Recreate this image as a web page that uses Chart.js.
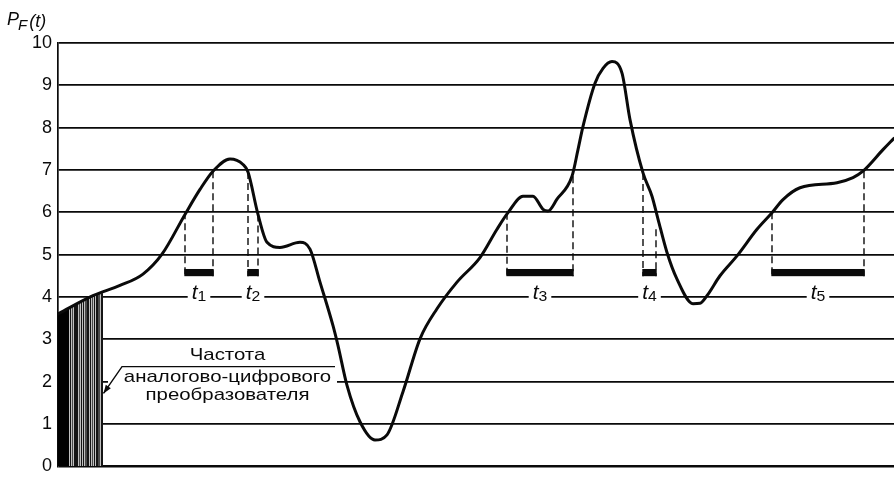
<!DOCTYPE html>
<html>
<head>
<meta charset="utf-8">
<script src="https://cdn.jsdelivr.net/npm/chart.js@4/dist/chart.umd.min.js"></script>
<style>
  html, body { margin: 0; padding: 0; background: #fff; }
  #wrap { width: 894px; height: 483px; }
</style>
</head>
<body>
<div id="wrap"><canvas id="c"></canvas></div>
<script>
// Signal P_F(t): time in arbitrary sample units, value 0..10
const curveT = [0, 35, 62, 85, 104, 127, 142, 155, 172, 185, 190, 200, 209, 222, 242, 252,
  262, 275, 280, 289, 302, 317, 329, 345, 362, 379, 399, 422, 439, 450, 465, 475, 485, 490,
  499, 514, 520, 525, 537, 545, 554, 564, 572, 585, 594, 600, 609, 619, 635, 642, 649, 662,
  679, 699, 714, 725, 742, 779, 795, 805, 825, 836];
const curveP = [3.6, 4.03, 4.27, 4.54, 5.01, 5.95, 6.54, 6.97, 7.26, 7.13, 6.95, 5.95, 5.29, 5.17, 5.29, 5.13,
  4.35, 3.32, 2.85, 1.91, 1.05, 0.62, 0.74, 1.76, 3.01, 3.72, 4.35, 4.93, 5.6, 5.99, 6.38, 6.38, 6.07, 6.03,
  6.31, 6.85, 7.48, 8.03, 9.05, 9.4, 9.56, 9.29, 8.19, 6.93, 6.38, 5.84, 5.05, 4.42, 3.84, 3.85, 4.03, 4.5,
  4.97, 5.6, 5.99, 6.3, 6.58, 6.7, 6.82, 6.97, 7.48, 7.75];

// ADC sampling region at the start
const adcT = [0, 35, 45];
const adcP = [3.6, 4.03, 4.09];

// Measured intervals t1..t5
const intervalNames = ['1', '2', '3', '4', '5'];
const intervalStart = [127, 190, 449, 585, 714];
const intervalEnd = [155, 200, 515, 598, 806];
const startLevel = [6.0, 6.95, 5.99, 6.93, 6.0];
const endLevel = [6.97, 5.95, 6.85, 5.6, 6.97];

const noteLines = ['Частота', 'аналогово-цифрового', 'преобразователя'];

const INK = '#0a0a0a';
const STRETCH = 1.2;
const BAR_LOW = 4.49, BAR_HIGH = 4.66, LABEL_LEVEL = 4;

function drawText(ctx, text, x, y, font, align, k = STRETCH) {
  ctx.save();
  ctx.font = font;
  const w = ctx.measureText(text).width * k;
  let x0 = x;
  if (align === 'center') x0 = x - w / 2;
  if (align === 'right') x0 = x - w;
  ctx.translate(x0, y);
  ctx.scale(k, 1);
  ctx.textAlign = 'left';
  ctx.textBaseline = 'alphabetic';
  ctx.fillStyle = INK;
  ctx.fillText(text, 0, 0);
  ctx.restore();
  return w;
}

function textWidth(ctx, text, font, k = STRETCH) {
  ctx.save();
  ctx.font = font;
  const w = ctx.measureText(text).width * k;
  ctx.restore();
  return w;
}

function adcStripes(context) {
  const chart = context.chart;
  const xs = chart.scales.x;
  if (!chart.chartArea || !xs) return INK;
  const x0 = xs.getPixelForValue(adcT[0]);
  const x1 = xs.getPixelForValue(adcT[adcT.length - 1]);
  const span = x1 - x0;
  const g = chart.ctx.createLinearGradient(x0, 0, x1, 0);
  const solid = 11;
  g.addColorStop(0, '#000');
  g.addColorStop(solid / span, '#000');
  let p = solid, i = 0;
  while (p < span - 1) {
    const a = p / span;
    const b = Math.min(1, (p + 0.8) / span);
    const c = Math.min(1, (p + 2.2) / span);
    g.addColorStop(a, '#c0c0c0');
    g.addColorStop(b, '#c0c0c0');
    const col = i % 3 === 1 ? '#4a4a4a' : '#151515';
    g.addColorStop(b, col);
    g.addColorStop(c, col);
    p += 2.2; i++;
  }
  g.addColorStop(1, '#151515');
  return g;
}

const decorations = {
  id: 'decorations',
  beforeDatasetsDraw(chart) {
    const { ctx, scales: { x, y } } = chart;
    ctx.save();

    // dashed drops and interval bars
    ctx.strokeStyle = INK;
    ctx.lineWidth = 1.4;
    ctx.setLineDash([7, 4]);
    intervalStart.forEach((s, i) => {
      const xs = x.getPixelForValue(s), xe = x.getPixelForValue(intervalEnd[i]);
      const yb = y.getPixelForValue(BAR_LOW);
      ctx.beginPath();
      ctx.moveTo(xs, y.getPixelForValue(startLevel[i]));
      ctx.lineTo(xs, yb);
      ctx.moveTo(xe, y.getPixelForValue(endLevel[i]));
      ctx.lineTo(xe, yb);
      ctx.stroke();
    });
    ctx.setLineDash([]);
    ctx.fillStyle = INK;
    intervalStart.forEach((s, i) => {
      const xs = x.getPixelForValue(s), xe = x.getPixelForValue(intervalEnd[i]);
      const yt = y.getPixelForValue(BAR_HIGH), yb = y.getPixelForValue(BAR_LOW);
      ctx.fillRect(xs - 0.7, yt, xe - xs + 1.4, yb - yt);
    });

    // interval labels on the level-4 line
    const tFont = 'italic 20px "Liberation Sans", Arial, sans-serif';
    const sFont = '15px "Liberation Sans", Arial, sans-serif';
    const yl = y.getPixelForValue(LABEL_LEVEL);
    intervalNames.forEach((n, i) => {
      const cx = x.getPixelForValue((intervalStart[i] + intervalEnd[i]) / 2);
      const wt = textWidth(ctx, 't', tFont, 1.05), ws = textWidth(ctx, n, sFont, 1.05);
      const w = wt + ws;
      ctx.fillStyle = '#fff';
      ctx.fillRect(cx - w / 2 - 4, yl - 3, w + 8, 6);
      drawText(ctx, 't', cx - w / 2, yl + 2, tFont, 'left', 1.05);
      drawText(ctx, n, cx - w / 2 + wt, yl + 4, sFont, 'left', 1.05);
    });

    // ADC note
    const nFont = '17px "Liberation Sans", Arial, sans-serif';
    const ncx = x.getPixelForValue(169.5);
    ctx.fillStyle = '#fff';
    const bx0 = x.getPixelForValue(50), bx1 = x.getPixelForValue(279);
    const by0 = y.getPixelForValue(2.26), by1 = y.getPixelForValue(1.79);
    ctx.fillRect(bx0, by0, bx1 - bx0, by1 - by0);
    drawText(ctx, noteLines[0], ncx, y.getPixelForValue(2.5), nFont, 'center');
    drawText(ctx, noteLines[1], ncx, y.getPixelForValue(2.0), nFont, 'center');
    drawText(ctx, noteLines[2], ncx, y.getPixelForValue(1.555), nFont, 'center');

    const ox0 = x.getPixelForValue(64), ox1 = x.getPixelForValue(277), oy = y.getPixelForValue(2.353);
    const tipX = x.getPixelForValue(45.5), tipY = y.getPixelForValue(1.72);
    ctx.strokeStyle = INK;
    ctx.lineWidth = 1.4;
    ctx.beginPath();
    ctx.moveTo(ox1, oy);
    ctx.lineTo(ox0, oy);
    ctx.lineTo(tipX, tipY);
    ctx.stroke();
    const ang = Math.atan2(tipY - oy, tipX - ox0);
    ctx.fillStyle = INK;
    ctx.beginPath();
    ctx.moveTo(tipX, tipY);
    ctx.lineTo(tipX - 9 * Math.cos(ang - 0.35), tipY - 9 * Math.sin(ang - 0.35));
    ctx.lineTo(tipX - 9 * Math.cos(ang + 0.35), tipY - 9 * Math.sin(ang + 0.35));
    ctx.closePath();
    ctx.fill();
    ctx.restore();
  },
  afterDraw(chart) {
    const { ctx, scales: { y } } = chart;
    // axis title P_F(t)
    const top = y.getPixelForValue(10);
    const big = 'italic 18px "Liberation Sans", Arial, sans-serif';
    const sub = 'italic 15px "Liberation Sans", Arial, sans-serif';
    let px = 7;
    px += drawText(ctx, 'P', px, top - 18, big, 'left', 1);
    px += drawText(ctx, 'F', px - 1, top - 13, sub, 'left', 1);
    drawText(ctx, '(t)', px + 1, top - 16, big, 'left', 1);
  }
};

new Chart(document.getElementById('c'), {
  type: 'line',
  data: {
    datasets: [
      {
        label: 'P_F(t)',
        data: curveT.map((t, i) => ({ x: t, y: curveP[i] })),
        borderColor: INK,
        borderWidth: 3,
        pointRadius: 0,
        cubicInterpolationMode: 'monotone',
        borderCapStyle: 'round',
        borderJoinStyle: 'round',
        fill: false,
        order: 0
      },
      {
        label: 'ADC',
        data: adcT.map((t, i) => ({ x: t, y: adcP[i] })),
        borderWidth: 0,
        pointRadius: 0,
        tension: 0,
        fill: 'origin',
        backgroundColor: adcStripes,
        order: 1
      }
    ]
  },
  options: {
    responsive: true,
    maintainAspectRatio: false,
    animation: false,
    layout: { padding: { top: 43, bottom: 15, left: 0, right: 0 } },
    plugins: {
      legend: { display: false },
      tooltip: { enabled: false }
    },
    scales: {
      x: { type: 'linear', min: 0, max: 836, display: false },
      y: {
        min: 0,
        max: 10,
        afterFit: scale => { scale.width = 58; },
        ticks: {
          stepSize: 1,
          padding: 6,
          color: INK,
          font: { family: '"Liberation Sans", Arial, sans-serif', size: 18 }
        },
        grid: {
          color: INK,
          drawTicks: false,
          lineWidth: c => (c.tick && c.tick.value === 0 ? 2.6 : 1.7)
        },
        border: { display: true, color: INK, width: 1.7 }
      }
    }
  },
  plugins: [decorations]
});
</script>
</body>
</html>
